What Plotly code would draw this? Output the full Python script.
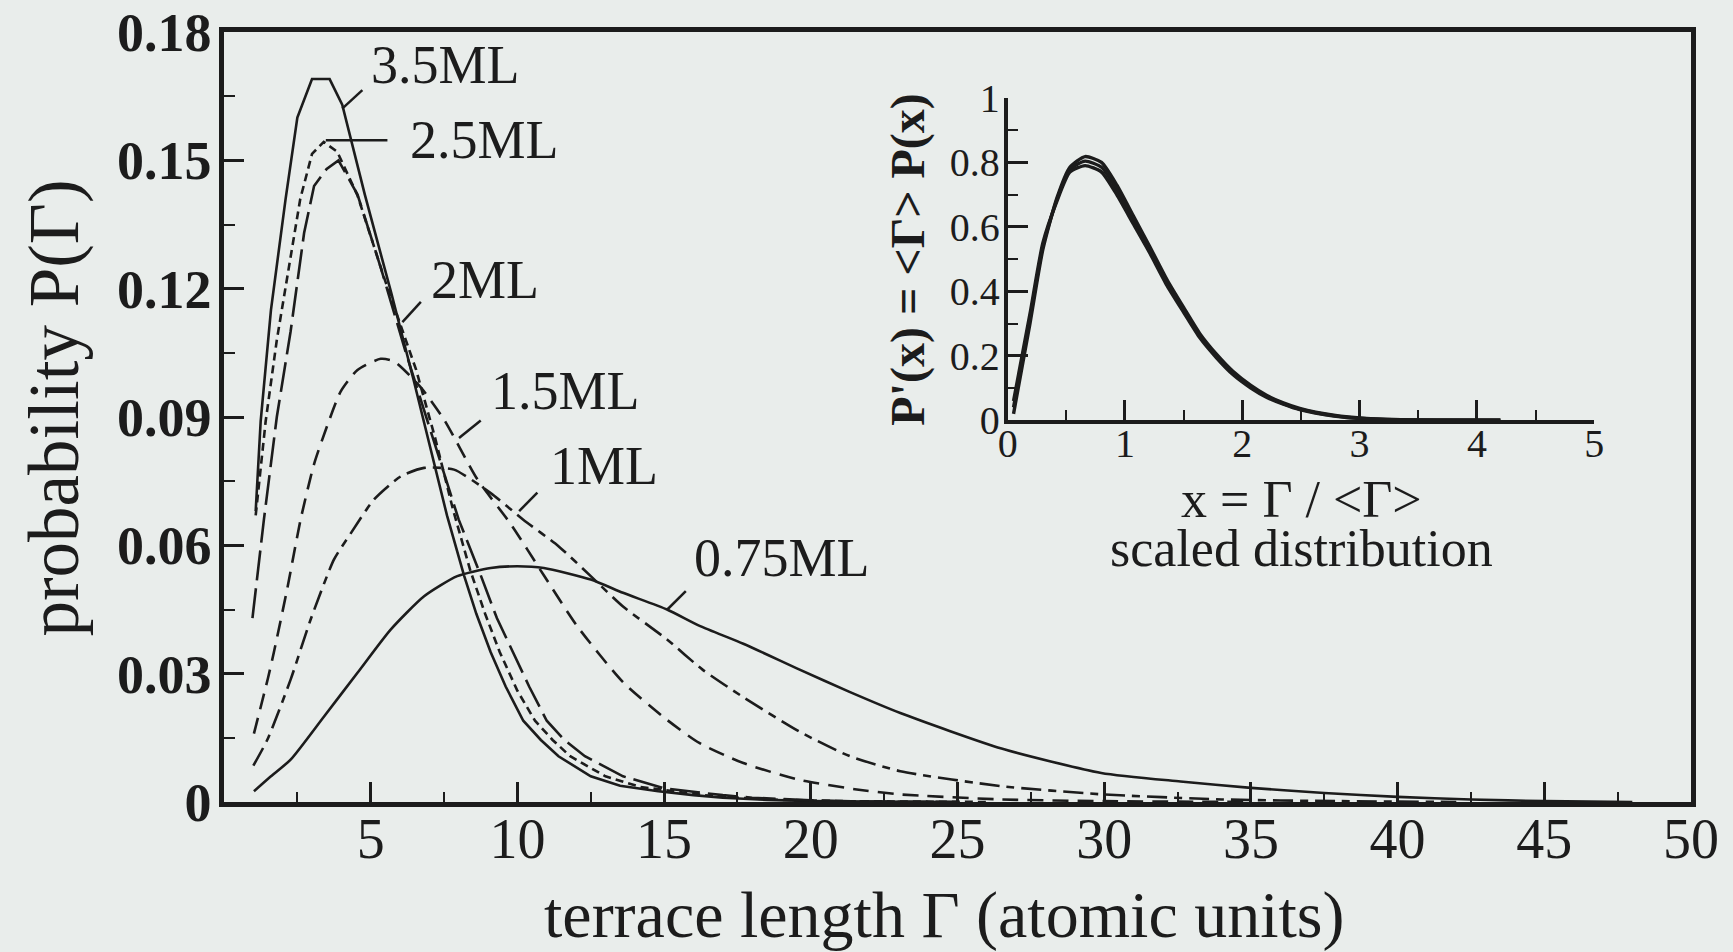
import plotly.graph_objects as go

# ---------------- data ----------------
x_35 = [1.08, 1.25, 1.6, 2.1, 2.5, 3.0, 3.6, 4.03, 4.8, 5.7, 6.45, 7.05, 7.6, 8.18, 8.6, 9.09, 9.6, 10.2,
        10.8, 11.4, 12.5, 13.5, 14.8, 16, 17, 18.5, 20, 22, 25]
y_35 = [0.068, 0.089, 0.115, 0.141, 0.160, 0.169, 0.169, 0.163, 0.142, 0.119, 0.099, 0.082, 0.067, 0.053,
        0.044, 0.035, 0.027, 0.019, 0.0145, 0.0107, 0.006, 0.0038, 0.0025, 0.0016, 0.0010, 0.0005, 0.0002,
        0.0001, 0]

x_25 = [1.08, 1.42, 1.8, 2.27, 2.6, 3.0, 3.4, 3.86, 4.55, 5.45, 6.55, 7.2, 7.8, 8.4, 8.9, 9.4, 10.0, 10.6,
        11.2, 11.8, 13.0, 14.2, 15.3, 16.5, 17.5, 19, 21, 23, 26]
y_25 = [0.067, 0.089, 0.108, 0.127, 0.141, 0.1515, 0.1543, 0.152, 0.1418, 0.1227, 0.101, 0.085, 0.0685,
        0.054, 0.044, 0.035, 0.026, 0.019, 0.0145, 0.0107, 0.006, 0.0035, 0.0025, 0.0015, 0.001, 0.0005,
        0.0002, 0.0001, 0]

x_20 = [0.97, 1.36, 1.8, 2.27, 2.73, 3.07, 3.5, 3.9, 4.55, 5.34, 6.2, 6.8, 7.35, 8.0, 8.75, 9.3, 9.85, 10.4,
        11.0, 11.6, 12.3, 13.6, 15.0, 15.8, 17, 18, 20, 22, 25]
y_20 = [0.043, 0.066, 0.090, 0.110, 0.133, 0.144, 0.148, 0.150, 0.142, 0.125, 0.105, 0.092, 0.080, 0.066,
        0.053, 0.043, 0.035, 0.027, 0.019, 0.0145, 0.0107, 0.006, 0.0032, 0.0025, 0.0016, 0.001, 0.0004,
        0.0001, 0]

x_15 = [1.02, 1.5, 1.7, 2.16, 2.61, 3.07, 3.52, 3.98, 4.55, 5.34, 5.8, 6.7, 7.5, 8.64, 9.77, 10.9, 12.05,
        13.6, 15.1, 16.2, 17.7, 19.6, 21.5, 23, 26.5, 30, 35]
y_15 = [0.016, 0.029, 0.035, 0.050, 0.066, 0.079, 0.088, 0.096, 0.101, 0.1036, 0.103, 0.097, 0.0894,
        0.0754, 0.065, 0.053, 0.041, 0.028, 0.0192, 0.0138, 0.0091, 0.0052, 0.003, 0.0018, 0.0006, 0.0002, 0]

x_10 = [1.0, 1.48, 2.27, 2.95, 3.75, 4.32, 5.11, 6.02, 6.82, 7.84, 9.09, 10.2, 11.4, 12.5, 13.6, 15.1,
        16.3, 17.7, 19.6, 21.3, 23.05, 26.5, 29.9, 34, 38, 42]
y_10 = [0.0085, 0.0146, 0.0286, 0.0426, 0.0567, 0.0628, 0.0707, 0.0761, 0.0781, 0.0777, 0.0722, 0.066,
        0.0598, 0.0528, 0.0457, 0.038, 0.031, 0.0245, 0.0165, 0.0108, 0.0072, 0.0037, 0.0018, 0.0006,
        0.0002, 0]

x_075 = [1.02, 1.6, 2.27, 3.41, 4.55, 5.68, 6.82, 7.95, 9.09, 10.0, 10.9, 12.5, 13.6, 15.1, 16.23, 17.7,
         19.6, 21.3, 23.05, 26.5, 29.9, 32.6, 35, 37.5, 40, 42.5, 45, 48]
y_075 = [0.0025, 0.006, 0.0099, 0.020, 0.0302, 0.0403, 0.0481, 0.0528, 0.0547, 0.0551, 0.0547, 0.052,
         0.0489, 0.045, 0.0411, 0.037, 0.031, 0.0258, 0.0208, 0.0125, 0.0068, 0.0048, 0.0033, 0.0021,
         0.0012, 0.0006, 0.0002, 0]

coverage_labels = ["3.5ML", "2.5ML", "2ML", "1.5ML", "1ML", "0.75ML"]

# inset: scaled distribution (envelope of the collapsed curves)
inset_x = [0.05, 0.19, 0.30, 0.42, 0.53, 0.66, 0.80, 0.93, 1.07, 1.21, 1.36, 1.50, 1.64, 1.78, 1.92, 2.07,
           2.21, 2.35, 2.49, 2.78, 3.06, 3.5, 4.2]
inset_hi = [0.02, 0.30, 0.53, 0.69, 0.785, 0.818, 0.80, 0.73, 0.635, 0.54, 0.435, 0.35, 0.268, 0.205, 0.152,
            0.109, 0.077, 0.054, 0.037, 0.016, 0.006, 0.001, 0]
inset_mid = [0.04, 0.315, 0.54, 0.685, 0.778, 0.804, 0.785, 0.716, 0.623, 0.529, 0.426, 0.343, 0.261, 0.199,
             0.147, 0.105, 0.074, 0.052, 0.035, 0.0145, 0.005, 0.001, 0]
inset_lo = [0.06, 0.33, 0.55, 0.68, 0.77, 0.79, 0.77, 0.70, 0.61, 0.52, 0.417, 0.335, 0.255, 0.194, 0.142,
            0.101, 0.071, 0.050, 0.033, 0.013, 0.004, 0.0005, 0]

main_xticks = [5, 10, 15, 20, 25, 30, 35, 40, 45, 50]
main_yticks = [0, 0.03, 0.06, 0.09, 0.12, 0.15, 0.18]
main_yticktext = ["0", "0.03", "0.06", "0.09", "0.12", "0.15", "0.18"]
inset_xticks = [0, 1, 2, 3, 4, 5]
inset_yticks = [0, 0.2, 0.4, 0.6, 0.8, 1.0]
inset_yticktext = ["0", "0.2", "0.4", "0.6", "0.8", "1"]

# label positions (data coords) and leader lines (data coords: curve end -> label end)
label_pos = [(7.55, 0.1723), (8.87, 0.1548), (8.88, 0.1221), (11.64, 0.0960), (12.96, 0.0785), (19.02, 0.0570)]
leaders = [((4.03, 0.1621), (4.715, 0.1664)),
           ((3.47, 0.1547), (5.57, 0.1547)),
           ((6.08, 0.1122), (6.71, 0.1169)),
           ((8.01, 0.0851), (8.75, 0.0892)),
           ((10.06, 0.0680), (10.68, 0.0723)),
           ((15.11, 0.0450), (15.74, 0.0493))]

# ---------------- styling ----------------
INK = "#1c1c1c"
BG = "#e9edeb"
SERIF = "Liberation Serif, Times New Roman, serif"

series = [
    ("3.5ML", x_35, y_35, "solid", "linear"),
    ("2.5ML", x_25, y_25, "8px,5px", "linear"),
    ("2ML", x_20, y_20, "30px,8px", "linear"),
    ("1.5ML", x_15, y_15, "16px,9px", "spline"),
    ("1ML", x_10, y_10, "20px,7px,8px,7px", "spline"),
    ("0.75ML", x_075, y_075, "solid", "spline"),
]

fig = go.Figure()
for name, xs, ys, dash, shape in series:
    fig.add_trace(go.Scatter(x=xs, y=ys, mode="lines", name=name,
                             line=dict(color=INK, width=2.6, dash=dash, shape=shape, smoothing=0.6),
                             xaxis="x", yaxis="y", showlegend=False))

for ys in (inset_hi, inset_mid, inset_lo):
    fig.add_trace(go.Scatter(x=inset_x, y=ys, mode="lines",
                             line=dict(color=INK, width=3.4, shape="spline", smoothing=0.6),
                             xaxis="x2", yaxis="y2", showlegend=False))

annotations = []
for (lx, ly), text in zip(label_pos, coverage_labels):
    annotations.append(dict(x=lx, y=ly, xref="x", yref="y", text=text, showarrow=False,
                            xanchor="center", yanchor="middle",
                            font=dict(family=SERIF, size=54, color=INK)))

# main axis titles
annotations.append(dict(x=0.4908, y=-0.1462, xref="paper", yref="paper", text="terrace length Γ (atomic units)",
                        showarrow=False, xanchor="center", yanchor="middle",
                        font=dict(family=SERIF, size=66, color=INK)))
annotations.append(dict(x=-0.1152, y=0.5109, xref="paper", yref="paper", text="probability P(Γ)",
                        showarrow=False, xanchor="center", yanchor="middle", textangle=-90,
                        font=dict(family=SERIF, size=71, color=INK)))
# inset x title: two tight lines in one text block (base size sets the line pitch)
annotations.append(dict(x=0.7348, y=0.3609, xref="paper", yref="paper",
                        text=("<span style='font-size:52px'>x = Γ / &lt;Γ&gt;</span><br>"
                              "<span style='font-size:52px'>scaled distribution</span>"),
                        showarrow=False, xanchor="center", yanchor="middle", align="center",
                        font=dict(family=SERIF, size=38, color=INK)))
annotations.append(dict(x=0.4663, y=0.7044, xref="paper", yref="paper",
                        text="<b>P'(x) = &lt;Γ&gt; P(x)</b>",
                        showarrow=False, xanchor="center", yanchor="middle", textangle=-90,
                        font=dict(family=SERIF, size=48, color=INK)))

shapes = []
for (x0, y0), (x1, y1) in leaders:
    shapes.append(dict(type="line", xref="x", yref="y", x0=x0, y0=y0, x1=x1, y1=y1,
                       line=dict(color=INK, width=2.5)))

fig.update_layout(
    width=1733, height=952,
    margin=dict(l=224, r=42, t=32, b=150, autoexpand=False),
    paper_bgcolor=BG, plot_bgcolor=BG,
    showlegend=False,
    annotations=annotations,
    shapes=shapes,
    xaxis=dict(domain=[0, 1], range=[0, 50], showline=True, linewidth=4.5, linecolor=INK, mirror=True,
               ticks="inside", tickvals=main_xticks, ticklen=20, tickwidth=2.5, tickcolor=INK,
               minor=dict(tick0=0, dtick=2.5, ticklen=10, tickwidth=2, tickcolor=INK, ticks="inside"),
               showgrid=False, zeroline=False, ticklabelstandoff=-16, automargin=False,
               tickfont=dict(family=SERIF, size=56, color=INK)),
    yaxis=dict(domain=[0, 1], range=[0, 0.18], showline=True, linewidth=4.5, linecolor=INK, mirror=True,
               ticks="inside", tickvals=main_yticks, ticktext=main_yticktext, ticklen=20, tickwidth=2.5,
               tickcolor=INK,
               minor=dict(tick0=0, dtick=0.015, ticklen=11, tickwidth=2, tickcolor=INK, ticks="inside"),
               showgrid=False, zeroline=False, ticklabelstandoff=-3, automargin=False,
               tickfont=dict(family=SERIF, size=54, color=INK, weight="bold")),
    xaxis2=dict(domain=[0.5342, 0.934], anchor="y2", range=[0, 5], showline=True, linewidth=4,
                linecolor=INK, mirror=False, ticks="inside", tickvals=inset_xticks, ticklen=20, tickwidth=2.5,
                tickcolor=INK,
                minor=dict(tick0=0, dtick=0.5, ticklen=10, tickwidth=2, tickcolor=INK, ticks="inside"),
                showgrid=False, zeroline=False, ticklabelstandoff=-15, automargin=False,
                tickfont=dict(family=SERIF, size=40, color=INK)),
    yaxis2=dict(domain=[0.4957, 0.9144], anchor="x2", range=[0, 1], showline=True, linewidth=4,
                linecolor=INK, mirror=False, ticks="inside", tickvals=inset_yticks, ticktext=inset_yticktext,
                ticklen=20, tickwidth=2.5, tickcolor=INK,
                minor=dict(tick0=0, dtick=0.1, ticklen=10, tickwidth=2, tickcolor=INK, ticks="inside"),
                showgrid=False, zeroline=False, ticklabelstandoff=-4, automargin=False,
                tickfont=dict(family=SERIF, size=40, color=INK)),
)

fig.write_html("out.html")
